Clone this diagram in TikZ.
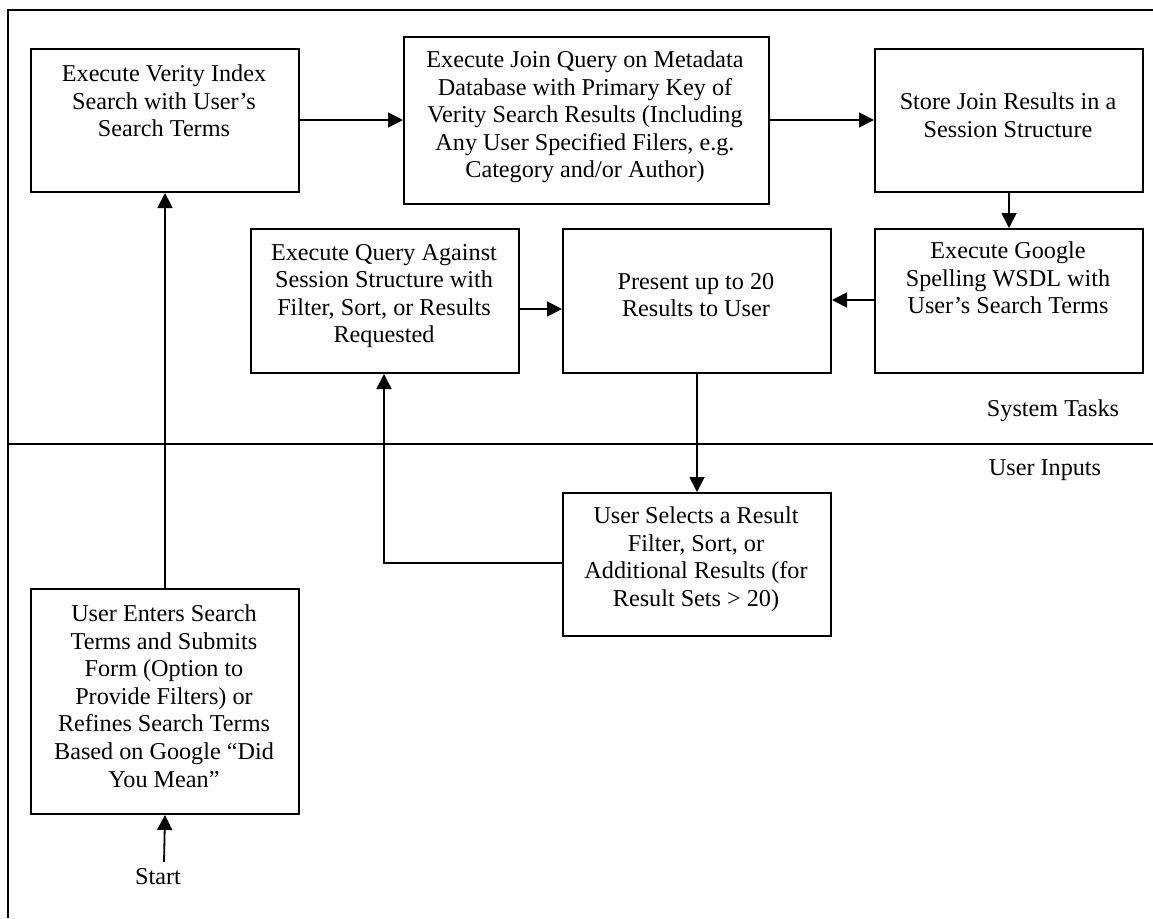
\documentclass[tikz,border=0pt]{standalone}
\usepackage{fontspec}
\setmainfont{Liberation Serif}
\usetikzlibrary{arrows.meta}
\begin{document}
\begin{tikzpicture}[x=1pt,y=-1pt,
  box/.style={draw, line width=2pt, inner sep=0pt, anchor=north west},
  txt/.style={align=center, inner sep=0pt, font=\fontsize{24.2}{27.6}\selectfont},
  arr/.style={line width=1.8pt, -{Triangle[length=15pt,width=15pt]}},
  frame/.style={line width=2.2pt}]
\useasboundingbox (0,0) rectangle (1153,918);
% frame
\coordinate (fTL) at (8,10);
\coordinate (fTR) at (1153,10);
\coordinate (fBL) at (8,918);
\coordinate (dL) at (8,444);
\coordinate (dR) at (1153,444);
\draw[frame] (fBL) -- (fTL) -- (fTR);
\draw[frame] (dL) -- (dR);
% boxes
\node[box, minimum width=268pt, minimum height=143pt] (verity) at (30,48) {};
\node[box, minimum width=365pt, minimum height=167pt] (join) at (403,36) {};
\node[box, minimum width=268pt, minimum height=143pt] (store) at (874,48) {};
\node[box, minimum width=268pt, minimum height=144pt] (google) at (874,228) {};
\node[box, minimum width=268pt, minimum height=144pt] (present) at (562,228) {};
\node[box, minimum width=268pt, minimum height=144pt] (query) at (250,228) {};
\node[box, minimum width=268pt, minimum height=143pt] (select) at (562,492) {};
\node[box, minimum width=268pt, minimum height=225pt] (enter) at (30,588) {};
% texts
\node[txt] (tverity) at (164,101) {Execute Verity Index\\Search with User’s\\Search Terms};
\node[txt] (tjoin) at (585,117) {Execute Join Query on Metadata\\Database with Primary Key of\\Verity Search Results (Including\\Any User Specified Filers, e.g.\\Category and/or Author)};
\node[txt] (tstore) at (1008,115) {Store Join Results in a\\Session Structure};
\node[txt] (tgoogle) at (1008,278) {Execute Google\\Spelling WSDL with\\User’s Search Terms};
\node[txt] (tpresent) at (696,295) {Present up to 20\\Results to User};
\node[txt] (tquery) at (384,296) {Execute Query Against\\Session Structure with\\Filter, Sort, or Results\\Requested};
\node[txt] (tselect) at (696,559) {User Selects a Result\\Filter, Sort, or\\Additional Results (for\\Result Sets > 20)};
\node[txt] (tenter) at (164,696) {User Enters Search\\Terms and Submits\\Form (Option to\\Provide Filters) or\\Refines Search Terms\\Based on Google “Did\\You Mean”};
\node[txt] (start) at (158,877) {Start};
\node[txt] (systasks) at (1053,411) {System Tasks};
\node[txt] (userin) at (1045,470) {User Inputs};
% connectors
\draw[arr] (verity.east |- 0,120) -- (join.west |- 0,120);
\draw[arr] (join.east |- 0,120) -- (store.west |- 0,120);
\draw[arr] (store.south) -- (google.north);
\draw[arr] (google.west |- 0,300) -- (present.east |- 0,300);
\draw[arr] (query.east |- 0,309) -- (present.west |- 0,309);
\draw[arr] (present.south) -- (select.north);
\coordinate (loopc) at (384,563);
\draw[arr] (select.west |- loopc) -- (loopc) -- (query.south -| loopc);
\draw[arr] (enter.north) -- (verity.south);
\coordinate (startc) at (164,862);
\draw[arr] (startc) -- (enter.south);
\end{tikzpicture}
\end{document}
